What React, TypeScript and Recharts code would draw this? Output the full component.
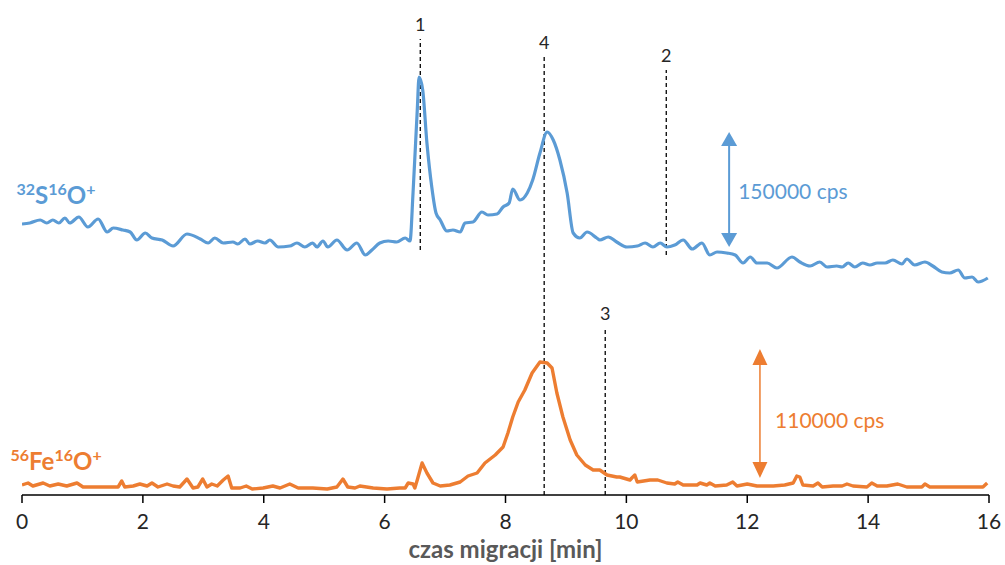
import { LineChart, Line, XAxis, YAxis, ReferenceLine, ReferenceDot } from 'recharts';

// migration time [min] and signal (arbitrary offset units, traces stacked as in the original figure)
const blueTime = [
  0, 0.13, 0.3, 0.41, 0.51, 0.61, 0.71, 0.79, 0.94, 1.09, 1.26, 1.41, 1.51, 1.67, 1.79, 1.9, 2.04, 2.15,
  2.32, 2.5, 2.73, 2.95, 3.08, 3.19, 3.33, 3.49, 3.57, 3.69, 3.77, 3.9, 4.02, 4.1, 4.24, 4.43, 4.55, 4.68,
  4.81, 4.88, 4.98, 5.06, 5.21, 5.38, 5.54, 5.68, 5.79, 5.92, 6.06, 6.2, 6.34, 6.42, 6.47, 6.54, 6.57, 6.63,
  6.7, 6.78, 6.85, 6.92, 7.03, 7.13, 7.25, 7.33, 7.46, 7.61, 7.71, 7.86, 7.96, 8.06, 8.12, 8.24, 8.36, 8.45,
  8.57, 8.69, 8.79, 8.9, 9.02, 9.12, 9.23, 9.35, 9.51, 9.56, 9.7, 9.84, 10.01, 10.18, 10.31, 10.44, 10.56,
  10.67, 10.8, 10.94, 11.09, 11.25, 11.38, 11.5, 11.66, 11.8, 11.93, 12.05, 12.16, 12.33, 12.49, 12.74,
  12.87, 13.04, 13.2, 13.32, 13.48, 13.57, 13.67, 13.78, 13.91, 14.03, 14.15, 14.28, 14.41, 14.56, 14.64,
  14.77, 14.94, 15.07, 15.22, 15.35, 15.49, 15.6, 15.72, 15.82, 15.98,
];
const blueSignal = [
  271, 272, 275, 272, 275, 272, 277, 272, 278, 268, 276, 263, 267, 265, 263, 255, 262, 257,
  255, 249, 261, 256, 252, 257, 252, 253, 251, 256, 251, 254, 252, 255, 248, 249, 252, 248,
  252, 248, 254, 248, 255, 245, 252, 240, 245, 252, 254, 253, 257, 254, 302, 385, 418, 405,
  352, 308, 282, 275, 264, 265, 263, 272, 273, 283, 280, 281, 288, 292, 306, 295, 302, 315,
  342, 363, 355, 335, 302, 262, 257, 263, 257, 255, 258, 253, 248, 249, 252, 248, 252,
  248, 250, 255, 246, 252, 240, 243, 242, 240, 232, 238, 232, 232, 227, 238,
  233, 229, 233, 228, 229, 228, 232, 228, 232, 230, 232, 232, 235, 231, 236,
  230, 233, 229, 223, 222, 225, 217, 218, 213, 217,
];

const orangeTime = [
  0, 0.1, 0.18, 0.35, 0.46, 0.6, 0.74, 0.91, 1.01, 1.24, 1.51, 1.59, 1.65, 1.7, 1.84, 1.95, 2.07, 2.15,
  2.25, 2.4, 2.5, 2.61, 2.73, 2.83, 2.91, 2.99, 3.06, 3.14, 3.23, 3.33, 3.41, 3.47, 3.61, 3.71, 3.81, 3.99,
  4.15, 4.27, 4.43, 4.57, 4.81, 5.05, 5.21, 5.31, 5.39, 5.51, 5.59, 5.81, 6.04, 6.25, 6.34, 6.39, 6.47, 6.5,
  6.54, 6.62, 6.7, 6.8, 6.92, 7.08, 7.25, 7.38, 7.53, 7.66, 7.83, 7.96, 8.04, 8.12, 8.21, 8.32, 8.44, 8.57,
  8.69, 8.77, 8.85, 8.95, 9.07, 9.18, 9.32, 9.45, 9.56, 9.68, 9.84, 9.89, 10.06, 10.09, 10.14, 10.18, 10.39,
  10.52, 10.67, 10.8, 10.85, 10.94, 11.17, 11.22, 11.33, 11.38, 11.47, 11.66, 11.76, 11.83, 12.0, 12.16,
  12.43, 12.62, 12.76, 12.82, 12.87, 12.92, 13.09, 13.17, 13.24, 13.42, 13.57, 13.65, 13.75, 13.98, 14.06,
  14.15, 14.31, 14.49, 14.64, 14.89, 14.94, 15.02, 15.3, 15.52, 15.8, 15.9, 15.97,
];
const orangeSignal = [
  10, 12, 9, 12, 9, 11, 9, 12, 8, 8, 8, 8, 14, 8, 9, 11, 9, 12,
  8, 11, 9, 8, 16, 7, 8, 16, 8, 11, 9, 15, 19, 7, 7, 9, 6, 7,
  9, 7, 11, 7, 7, 6, 8, 16, 8, 7, 9, 7, 6, 7, 7, 12, 11, 7,
  15, 32, 22, 12, 9, 10, 13, 19, 22, 32, 40, 48, 62, 78, 93, 105, 122, 133,
  132, 127, 102, 78, 55, 40, 30, 25, 25, 20, 18, 18, 15, 17, 20, 13, 15,
  15, 12, 11, 13, 10, 10, 12, 10, 12, 9, 10, 13, 9, 11, 9,
  9, 10, 12, 19, 18, 10, 9, 12, 8, 9, 9, 11, 9, 8, 12,
  9, 9, 11, 8, 8, 11, 8, 8, 8, 8, 8, 12,
];

const xTicks = [0, 2, 4, 6, 8, 10, 12, 14, 16];

// peak markers: label and migration time
const peakLabels = ['1', '4', '2', '3'];
const peakTimes = [6.59, 8.64, 10.66, 9.65];

const BLUE = '#5B9BD5';
const ORANGE = '#ED7D31';
const FONT = 'Lato, "Open Sans", sans-serif';

const blueData = blueTime.map((t, i) => ({ t, v: blueSignal[i] }));
const orangeData = orangeTime.map((t, i) => ({ t, v: orangeSignal[i] }));

const arrowShape = (color: string, width: number, headW: number, headH: number) => (p: any) => {
  const x = p.x1;
  const top = Math.min(p.y1, p.y2);
  const bot = Math.max(p.y1, p.y2);
  return (
    <g>
      <line x1={x} x2={x} y1={top + headH} y2={bot - headH} stroke={color} strokeWidth={width} />
      <polygon points={`${x},${top} ${x - headW},${top + headH} ${x + headW},${top + headH}`} fill={color} />
      <polygon points={`${x},${bot} ${x - headW},${bot - headH} ${x + headW},${bot - headH}`} fill={color} />
    </g>
  );
};

const ionLabel = (color: string, parts: Array<[string, boolean]>) => (p: any) => (
  <text x={p.cx} y={p.cy} fill={color} fontFamily={FONT} fontWeight={700}>
    {parts.map(([s, sup], i) => {
      const prevSup = i > 0 && parts[i - 1][1];
      const dy = sup ? (prevSup ? 0 : -9) : prevSup ? 9 : 0;
      return (
        <tspan key={i} fontSize={sup ? 16 : 24} dy={dy}>
          {s}
        </tspan>
      );
    })}
  </text>
);

const plainLabel = (color: string, text: string) => (p: any) => (
  <text x={p.cx} y={p.cy} fill={color} fontFamily={FONT} fontSize={21}>
    {text}
  </text>
);

// extents of the dashed marker lines (signal units)
const peakFrom = [245, 0, 240, 0];
const peakTo = [456, 438, 425, 167];

export default function App() {
  return (
    <div style={{ position: 'absolute', left: 0, top: 0, background: '#fff', fontFamily: FONT }}>
      <LineChart width={1005} height={565} margin={{ top: 0, right: 16, left: 22, bottom: 0 }}>
        <XAxis
          dataKey="t"
          type="number"
          domain={[0, 16]}
          ticks={xTicks}
          allowDataOverflow
          height={70}
          stroke="#000"
          strokeWidth={1.5}
          tickSize={8}
          tickMargin={11}
          tick={{ fontSize: 21, fill: '#262626', fontFamily: FONT }}
          label={{
            value: 'czas migracji [min]',
            position: 'insideBottom',
            offset: 7,
            fill: '#595959',
            fontSize: 24,
            fontWeight: 700,
            fontFamily: FONT,
          }}
        />
        <YAxis type="number" domain={[0, 495]} hide allowDataOverflow />

        {peakLabels.map((lab, i) => (
          <ReferenceLine
            key={lab}
            segment={[
              { x: peakTimes[i], y: peakFrom[i] },
              { x: peakTimes[i], y: peakTo[i] },
            ]}
            stroke="#000"
            strokeWidth={1.3}
            strokeDasharray="4 3"
            ifOverflow="visible"
            label={{ value: lab, position: 'top', offset: 8, fontSize: 18, fill: '#262626', fontFamily: FONT }}
          />
        ))}

        <Line
          data={blueData}
          dataKey="v"
          type="monotone"
          stroke={BLUE}
          strokeWidth={3.2}
          dot={false}
          isAnimationActive={false}
        />
        <Line
          data={orangeData}
          dataKey="v"
          type="linear"
          stroke={ORANGE}
          strokeWidth={3.4}
          strokeLinejoin="round"
          dot={false}
          isAnimationActive={false}
        />

        <ReferenceLine
          segment={[
            { x: 11.7, y: 363 },
            { x: 11.7, y: 248 },
          ]}
          ifOverflow="visible"
          shape={arrowShape(BLUE, 2, 8, 14)}
        />
        <ReferenceLine
          segment={[
            { x: 12.21, y: 146 },
            { x: 12.21, y: 17 },
          ]}
          ifOverflow="visible"
          shape={arrowShape(ORANGE, 1.5, 7.5, 16)}
        />

        <ReferenceDot x={11.85} y={296} r={0} ifOverflow="visible" shape={plainLabel(BLUE, '150000 cps')} />
        <ReferenceDot x={12.46} y={67} r={0} ifOverflow="visible" shape={plainLabel(ORANGE, '110000 cps')} />

        <ReferenceDot
          x={-0.09}
          y={291}
          r={0}
          ifOverflow="visible"
          shape={ionLabel(BLUE, [
            ['32', true],
            ['S', false],
            ['16', true],
            ['O', false],
            ['+', true],
          ])}
        />
        <ReferenceDot
          x={-0.19}
          y={25}
          r={0}
          ifOverflow="visible"
          shape={ionLabel(ORANGE, [
            ['56', true],
            ['Fe', false],
            ['16', true],
            ['O', false],
            ['+', true],
          ])}
        />
      </LineChart>
    </div>
  );
}
